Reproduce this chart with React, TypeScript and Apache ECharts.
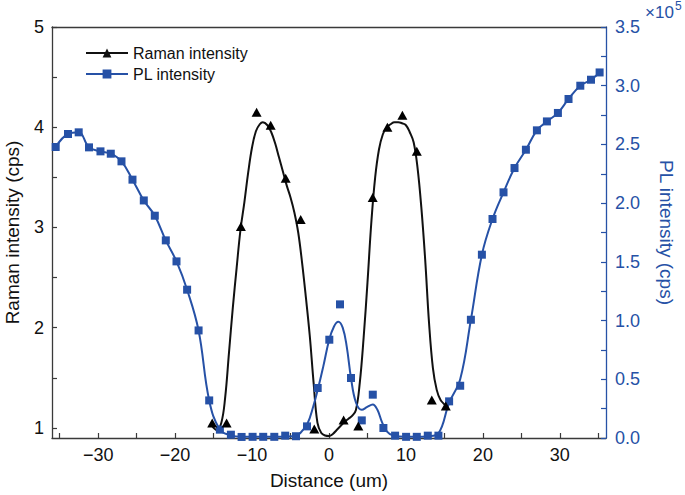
import React, { useEffect, useRef } from "react";
import * as echarts from "echarts";

const FONT = "'Liberation Sans', Arial, Helvetica, sans-serif";
const BLUE = "#2651a6";
const BLACK = "#111111";
const AXIS = "#3a3a3a";

// x-axis ticks / labels
const xTickValues = [-35, -30, -25, -20, -15, -10, -5, 0, 5, 10, 15, 20, 25, 30, 35];
const xLabelValues = [-30, -20, -10, 0, 10, 20, 30];
const leftTickValues = [1, 1.5, 2, 2.5, 3, 3.5, 4, 4.5, 5];
const leftLabelValues = [1, 2, 3, 4, 5];
const rightTickValues = [0, 0.25, 0.5, 0.75, 1, 1.25, 1.5, 1.75, 2, 2.25, 2.5, 2.75, 3, 3.25, 3.5];
const rightLabelValues = [0, 0.5, 1, 1.5, 2, 2.5, 3, 3.5];

// Raman intensity measured points (cps)
const ramanX = [-15.18, -13.31, -11.45, -9.41, -7.58, -5.63, -3.68, -1.91, 1.9, 3.81, 5.68, 7.59, 9.54, 11.41, 13.36, 15.18];
const ramanY = [1.05, 1.05, 3.01, 4.15, 4.02, 3.49, 3.08, 0.99, 1.08, 1.02, 3.3, 4.0, 4.12, 3.76, 1.28, 1.22];

// Raman fitted curve
const ramanFitX = [-15.2, -14.6, -14.0, -13.5, -13.0, -12.5, -12.0, -11.5, -11.0, -10.5, -10.0, -9.5, -9.0, -8.6, -8.0, -7.5, -7.0, -6.5, -6.0, -5.5, -5.0, -4.5, -4.0, -3.5, -3.0, -2.5, -2.0, -1.5, -1.0, -0.5, 0.0, 0.5, 1.0, 1.5, 2.0, 2.5, 3.0, 3.5, 4.0, 4.5, 5.0, 5.5, 6.0, 6.5, 7.0, 7.5, 8.0, 8.5, 9.0, 9.5, 10.0, 10.5, 11.0, 11.5, 12.0, 12.5, 13.0, 13.5, 14.0, 14.5, 15.2];
const ramanFitY = [1.02, 0.98, 1.05, 1.3, 1.75, 2.2, 2.6, 2.98, 3.25, 3.55, 3.8, 3.96, 4.03, 4.05, 4.02, 3.95, 3.84, 3.7, 3.56, 3.42, 3.3, 3.15, 2.95, 2.65, 2.3, 1.92, 1.45, 1.05, 0.95, 0.925, 0.92, 0.94, 0.98, 1.02, 1.06, 1.09, 1.12, 1.18, 1.45, 1.9, 2.45, 3.05, 3.5, 3.78, 3.93, 4.0, 4.03, 4.05, 4.05, 4.04, 4.02, 3.95, 3.85, 3.6, 3.2, 2.68, 2.05, 1.6, 1.38, 1.28, 1.22];

// PL intensity measured points (x10^5 cps)
const plX = [-35.52, -33.92, -32.53, -31.19, -29.7, -28.36, -26.97, -25.54, -24.07, -22.64, -21.21, -19.82, -18.44, -16.95, -15.57, -14.18, -12.75, -11.36, -9.93, -8.55, -7.11, -5.69, -4.29, -2.86, -1.47, 0.04, 1.43, 2.86, 4.26, 5.69, 7.07, 8.59, 10.02, 11.41, 12.84, 14.22, 15.61, 17.05, 18.44, 19.87, 21.25, 22.68, 24.11, 25.59, 27.02, 28.32, 29.75, 31.13, 32.66, 34.05, 35.17];
const plY = [2.478, 2.589, 2.603, 2.475, 2.441, 2.421, 2.356, 2.2, 2.023, 1.893, 1.683, 1.504, 1.263, 0.916, 0.32, 0.071, 0.028, 0.009, 0.01, 0.01, 0.01, 0.02, 0.015, 0.099, 0.426, 0.837, 1.138, 0.511, 0.15, 0.369, 0.085, 0.02, 0.01, 0.01, 0.02, 0.02, 0.312, 0.445, 1.007, 1.561, 1.865, 2.092, 2.299, 2.455, 2.62, 2.696, 2.768, 2.887, 3.0, 3.051, 3.113];

// PL fitted curve
const plFitX = [-35.52, -33.92, -32.53, -31.19, -29.7, -28.36, -26.97, -25.54, -24.07, -22.64, -21.21, -19.82, -18.44, -16.95, -15.57, -14.18, -12.75, -11.36, -9.93, -8.55, -7.11, -5.69, -4.29, -3.76, -2.82, -2.04, -1.39, -0.74, 0.04, 0.65, 1.21, 1.78, 2.3, 2.86, 3.51, 4.26, 4.98, 5.69, 6.29, 6.86, 7.51, 8.37, 10.02, 11.41, 12.84, 14.22, 15.61, 17.05, 18.44, 19.87, 21.25, 22.68, 24.11, 25.59, 27.02, 28.32, 29.75, 31.13, 32.66, 34.05, 35.17];
const plFitY = [2.478, 2.589, 2.603, 2.475, 2.441, 2.421, 2.356, 2.2, 2.023, 1.893, 1.683, 1.504, 1.263, 0.916, 0.32, 0.071, 0.022, 0.01, 0.01, 0.01, 0.01, 0.012, 0.02, 0.04, 0.12, 0.27, 0.43, 0.61, 0.84, 0.95, 0.99, 0.94, 0.78, 0.51, 0.3, 0.24, 0.265, 0.285, 0.24, 0.14, 0.056, 0.02, 0.01, 0.01, 0.015, 0.04, 0.3, 0.5, 1.007, 1.561, 1.865, 2.092, 2.299, 2.455, 2.62, 2.696, 2.768, 2.887, 3.0, 3.051, 3.113];

const zip = (xs: number[], ys: number[]) => xs.map((x, i) => [x, ys[i]]);

export default function App() {
  const ref = useRef<HTMLDivElement>(null);
  useEffect(() => {
    if (!ref.current) return;
    const chart = echarts.init(ref.current, undefined, { renderer: "svg" });
    chart.setOption({
      animation: false,
      backgroundColor: "#ffffff",
      textStyle: { fontFamily: FONT },
      grid: { left: 52, top: 27, right: 79, bottom: 57, containLabel: false, outerBoundsMode: "none" },
      legend: {
        data: ["Raman intensity", "PL intensity"],
        orient: "vertical",
        left: 80,
        top: 40,
        itemWidth: 42,
        itemHeight: 11,
        itemGap: 5,
        textStyle: { fontFamily: FONT, fontSize: 16, color: BLACK },
      },
      xAxis: [
        {
          type: "value",
          min: -36,
          max: 36,
          position: "bottom",
          name: "Distance (um)",
          nameLocation: "middle",
          nameGap: 33,
          nameTextStyle: { fontFamily: FONT, fontSize: 19, color: BLACK },
          axisLine: { show: true, onZero: false, lineStyle: { color: AXIS, width: 1.3 } },
          axisTick: { show: true, inside: true, length: 5, customValues: xTickValues, lineStyle: { color: AXIS, width: 1.2 } },
          axisLabel: {
            customValues: xLabelValues,
            fontFamily: FONT,
            fontSize: 18,
            color: BLACK,
            margin: 8,
            formatter: (v: number) => (v < 0 ? "\u2212" + Math.abs(v) : String(v)),
          },
          splitLine: { show: false },
        },
        {
          type: "value",
          min: -36,
          max: 36,
          position: "top",
          axisLine: { show: true, onZero: false, lineStyle: { color: AXIS, width: 1.3 } },
          axisTick: { show: false },
          axisLabel: { show: false },
          splitLine: { show: false },
        },
      ],
      yAxis: [
        {
          type: "value",
          min: 0.9,
          max: 5,
          position: "left",
          name: "Raman intensity (cps)",
          nameLocation: "middle",
          nameGap: 30,
          nameTextStyle: { fontFamily: FONT, fontSize: 19, color: BLACK },
          axisLine: { show: true, onZero: false, lineStyle: { color: AXIS, width: 1.3 } },
          axisTick: { show: true, inside: true, length: 5, customValues: leftTickValues, lineStyle: { color: AXIS, width: 1.2 } },
          axisLabel: { customValues: leftLabelValues, fontFamily: FONT, fontSize: 18, color: BLACK, margin: 8 },
          splitLine: { show: false },
        },
        {
          type: "value",
          min: 0,
          max: 3.5,
          position: "right",
          name: "PL intensity (cps)",
          nameLocation: "middle",
          nameRotate: -90,
          nameGap: 51,
          nameTextStyle: { fontFamily: FONT, fontSize: 19, color: BLUE },
          axisLine: { show: true, onZero: false, lineStyle: { color: BLUE, width: 1.3 } },
          axisTick: { show: true, inside: true, length: 5, customValues: rightTickValues, lineStyle: { color: BLUE, width: 1.2 } },
          axisLabel: {
            customValues: rightLabelValues,
            fontFamily: FONT,
            fontSize: 18,
            color: BLUE,
            margin: 9,
            formatter: (v: number) => v.toFixed(1),
          },
          splitLine: { show: false },
        },
      ],
      graphic: [
        { type: "text", left: 645, top: 4, style: { text: "\u00d710", fontFamily: FONT, fontSize: 17, fill: BLUE } },
        { type: "text", left: 675, top: 0, style: { text: "5", fontFamily: FONT, fontSize: 12, fill: BLUE } },
      ],
      series: [
        {
          name: "Raman intensity",
          type: "line",
          xAxisIndex: 0,
          yAxisIndex: 0,
          data: zip(ramanFitX, ramanFitY),
          smooth: 0.4,
          symbol: "triangle",
          symbolSize: 10,
          showSymbol: false,
          lineStyle: { color: BLACK, width: 2 },
          itemStyle: { color: BLACK },
          z: 3,
        },
        {
          name: "PL intensity",
          type: "line",
          xAxisIndex: 0,
          yAxisIndex: 1,
          data: zip(plFitX, plFitY),
          smooth: 0.4,
          symbol: "rect",
          symbolSize: 9,
          showSymbol: false,
          lineStyle: { color: BLUE, width: 2 },
          itemStyle: { color: BLUE },
          z: 3,
        },
        {
          name: "Raman intensity",
          type: "scatter",
          xAxisIndex: 0,
          yAxisIndex: 0,
          data: zip(ramanX, ramanY),
          symbol: "triangle",
          symbolSize: [10, 9],
          itemStyle: { color: "#000000", opacity: 1 },
          z: 5,
        },
        {
          name: "PL intensity",
          type: "scatter",
          xAxisIndex: 0,
          yAxisIndex: 1,
          data: zip(plX, plY),
          symbol: "rect",
          symbolSize: 8,
          itemStyle: { color: BLUE, opacity: 1 },
          z: 4,
        },
      ],
    });
    return () => chart.dispose();
  }, []);
  return <div ref={ref} style={{ width: 685, height: 495, position: "absolute", left: 0, top: 0 }} />;
}
